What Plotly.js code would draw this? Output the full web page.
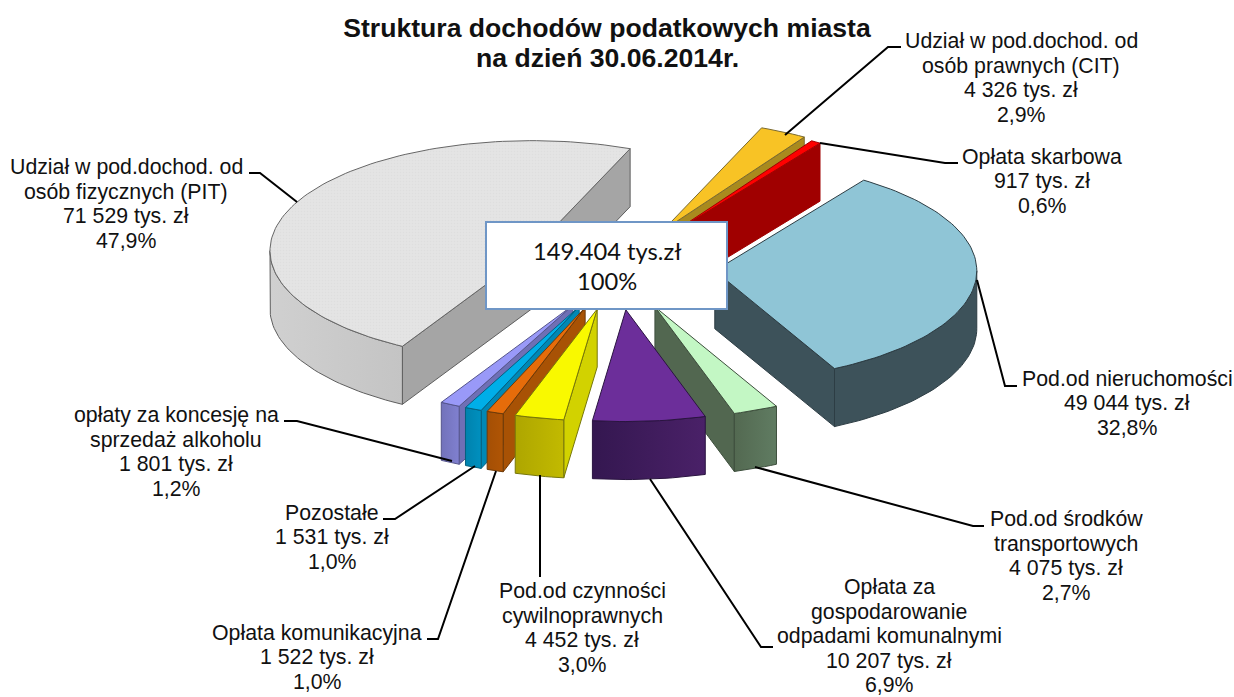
<!DOCTYPE html>
<html>
<head>
<meta charset="utf-8">
<script src="https://cdn.plot.ly/plotly-3.0.1.min.js"></script>
<style>html,body{margin:0;padding:0;background:#fff}#chart{width:1234px;height:697px}</style>
</head>
<body>
<div id="chart"></div>
<script>
// ---- data ----
const categories = [
  "Udział w pod.dochod. od|osób prawnych (CIT)",
  "Opłata skarbowa",
  "Pod.od nieruchomości",
  "Pod.od środków|transportowych",
  "Opłata za|gospodarowanie|odpadami komunalnymi",
  "Pod.od czynności|cywilnoprawnych",
  "Opłata komunikacyjna",
  "Pozostałe",
  "opłaty za koncesję na|sprzedaż alkoholu",
  "Udział w pod.dochod. od|osób fizycznych (PIT)"
];
const values = [4326, 917, 49044, 4075, 10207, 4452, 1522, 1531, 1801, 71529];
const amounts = ["4 326", "917", "49 044", "4 075", "10 207", "4 452", "1 522", "1 531", "1 801", "71 529"];
const percents = ["2,9%", "0,6%", "32,8%", "2,7%", "6,9%", "3,0%", "1,0%", "1,0%", "1,2%", "47,9%"];
const totalLines = ["149.404 tys.zł", "100%"];
const titleLines = ["Struktura dochodów podatkowych miasta", "na dzień 30.06.2014r."];

// ---- styles ----
const topColors  = ["#f8c325", "#ff0000", "#8fc5d6", "#c3f7c4", "#6c2e9a", "#f9f900", "#e66c0a", "#00aee8", "#9999f8", "#e3e3e3"];
const faceColors = ["#a98a1e", "#a00000", "#3d525a", "#526750", "#3a1a58", "#d2d200", "#a85205", "#0088b5", "#6f6fb5", "#a5a5a5"];
const rimStops = [
  ["#a98a1e", "#a98a1e"], ["#a00000", "#a00000"], ["#3d525a", "#3d525a"], ["#607c62", "#536951"],
  ["#4a2168", "#341750"], ["#c2ba00", "#aea600"], ["#b05505", "#a44f05"], ["#0090bf", "#0082ad"],
  ["#8080d0", "#7272ba"], ["#c4c4c4", "#d0d0d0"]
];
const edgeColors = ["#7a6a30", "#a00000", "#2d3d44", "#3e4f3d", "#2a1440", "#77770a", "#6f3a08", "#05607f", "#55558c", "#5e5e5e"];
const paintOrder = [9, 0, 1, 2, 8, 7, 6, 5, 3, 4];

// ---- projection of the tilted pie onto the canvas ----
const centre = [617, 268], tilt = 0.42, depth = 58, pull = 100, firstAngle = 22;
const sliceRadius = [264, 260, 262, 266, 266, 266, 266, 266, 266, 262];
const apexShift = [[0, 0], [0, 0], [-2, 0], [0, 0], [0, 0], [2, 0], [2, 0], [2, 0], [2, 0], [5, 1]];
const total = values.reduce((a, b) => a + b, 0);
const rad = d => d * Math.PI / 180;
const dirX = a => Math.sin(rad(a));
const dirY = a => -Math.cos(rad(a)) * tilt;

function arc(apex, r, a, b, dy) {
  const xs = [], ys = [], n = Math.max(2, Math.ceil((b - a) / 1.5));
  for (let i = 0; i <= n; i++) {
    const t = a + (b - a) * i / n;
    xs.push(apex[0] + r * dirX(t));
    ys.push(apex[1] + r * dirY(t) + dy);
  }
  return [xs, ys];
}
function poly(x, y, color, edge, name, extra) {
  return Object.assign({
    type: "scatter", mode: "lines", x: x.concat(x[0]), y: y.concat(y[0]), fill: "toself",
    fillcolor: color, line: {color: edge, width: 1}, hoverinfo: "text", text: name,
    showlegend: false, name: name
  }, extra || {});
}

let cursor = firstAngle;
const slices = values.map((v, i) => {
  const a = cursor, b = cursor + v / total * 360;
  cursor = b;
  const mid = (a + b) / 2;
  return {i, a, b, r: sliceRadius[i],
    apex: [centre[0] + pull * dirX(mid) + apexShift[i][0], centre[1] + pull * dirY(mid) + apexShift[i][1]]};
});

const traces = [];
paintOrder.forEach(k => {
  const s = slices[k], name = categories[k].replace(/\|/g, " ");
  const apex = s.apex, r = s.r;
  // flat radial walls that face the viewer
  [[s.a, Math.sin(rad(s.a)) < 0], [s.b, Math.sin(rad(s.b)) > 0]].forEach(([ang, visible]) => {
    if (!visible) return;
    const ex = apex[0] + r * dirX(ang), ey = apex[1] + r * dirY(ang);
    traces.push(poly([apex[0], ex, ex, apex[0]], [apex[1], ey, ey + depth, apex[1] + depth],
      faceColors[k], edgeColors[k], name));
  });
  // outer wall: only the part of the rim on the near side
  const lo = Math.max(s.a, 90), hi = Math.min(s.b, 270);
  if (hi > lo) {
    const [tx, ty] = arc(apex, r, lo, hi, 0);
    const [bx, by] = arc(apex, r, lo, hi, depth);
    traces.push(poly(tx.concat(bx.reverse()), ty.concat(by.reverse()), faceColors[k], edgeColors[k], name, {
      fillgradient: {type: "horizontal", colorscale: [[0, rimStops[k][1]], [1, rimStops[k][0]]]}
    }));
  }
  // top surface
  const [ax, ay] = arc(apex, r, s.a, s.b, 0);
  const extra = k === 9 ? {fillpattern: {shape: ".", size: 3, solidity: 0.2, bgcolor: "#e4e4e4", fgcolor: "#dedede", fillmode: "replace"}} : {};
  traces.push(poly([apex[0]].concat(ax), [apex[1]].concat(ay), topColors[k], k === 9 ? "#666666" : edgeColors[k], name, extra));
});

// ---- label positions: [x centre, y centre of the block] ----
const labelAnchors = [
  [1021, 78], [1042, 181], [1127, 403], [1066, 556], [889, 636],
  [582, 628], [317, 657], [332, 537], [176, 452], [126, 204]
];
const lineGap = 24.5;
const annotations = [];
function textLine(x, y, text, font) {
  annotations.push({xref: "x", yref: "y", x, y, text, showarrow: false, xanchor: "center", yanchor: "middle", font});
}
const labelFont = {family: "Liberation Sans, Arial, sans-serif", size: 21.3, color: "#111111"};
categories.forEach((c, i) => {
  const lines = c.split("|").concat([amounts[i] + " tys. zł", percents[i]]);
  lines.forEach((t, j) => textLine(labelAnchors[i][0], labelAnchors[i][1] + (j - (lines.length - 1) / 2) * lineGap, t, labelFont));
});
const boxFont = {family: "Lato, sans-serif", size: 23.7, color: "#111111"};
textLine(607, 251, totalLines[0], boxFont);
textLine(607, 281, totalLines[1], boxFont);
const titleFont = {family: "Liberation Sans, Arial, sans-serif", size: 26.6, color: "#111111"};
textLine(607, 58, "<b>" + titleLines[1] + "</b>", titleFont);

// ---- leader lines ----
const leaderPaths = [
  "M785,135 L888,47 L901,47",
  "M820,143 L945,163 L958,163",
  "M977,280 L1005,386 L1017,386",
  "M755,467 L973,526 L984,526",
  "M650,479 L761,647 L773,647",
  "M540,475 L540,577",
  "M496,471 L438,639 L427,639",
  "M475,466 L395,519 L383,519",
  "M452,461 L297,421 L284,421",
  "M297,202 L260,173 L249,173"
];
const shapes = leaderPaths.map(p => ({type: "path", xref: "x", yref: "y", path: p, line: {color: "#000000", width: 2}}));
shapes.push({type: "rect", xref: "x", yref: "y", x0: 486, x1: 727, y0: 222, y1: 309,
  fillcolor: "#ffffff", line: {color: "#6f96c6", width: 2}});

const layout = {
  width: 1234, height: 697, margin: {l: 0, r: 0, t: 0, b: 0},
  paper_bgcolor: "#ffffff", plot_bgcolor: "#ffffff", showlegend: false,
  title: {text: "<b>" + titleLines[0] + "</b>", x: 607 / 1234, xanchor: "center", y: 1 - 28 / 697, yanchor: "middle", font: titleFont},
  xaxis: {range: [0, 1234], visible: false, fixedrange: true},
  yaxis: {range: [697, 0], visible: false, fixedrange: true},
  shapes, annotations
};
Plotly.newPlot("chart", traces, layout, {displayModeBar: false, staticPlot: true});
</script>
</body>
</html>
